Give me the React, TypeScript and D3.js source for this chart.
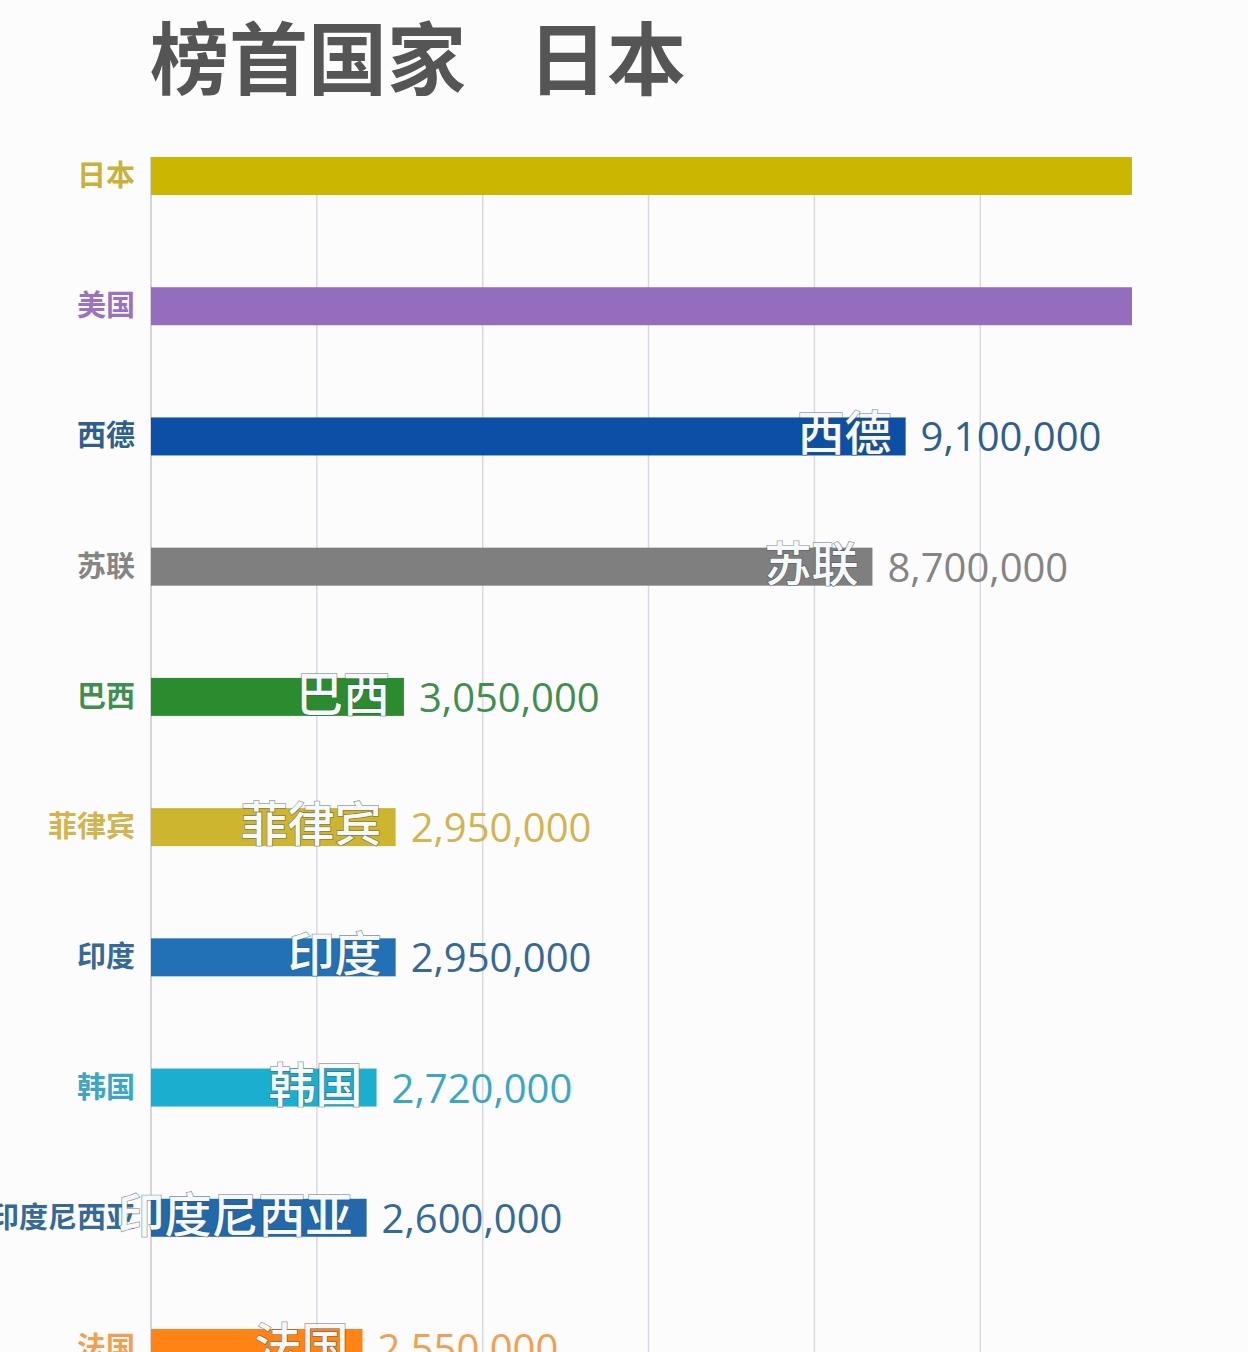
import React from "react";
import * as d3 from "d3";

const titleLead = "榜首国家";
const titleLeader = "日本";
const countries = ["日本", "美国", "西德", "苏联", "巴西", "菲律宾", "印度", "韩国", "印度尼西亚", "法国"];
const values = [12500000, 12200000, 9100000, 8700000, 3050000, 2950000, 2950000, 2720000, 2600000, 2550000];
const barColors = ["#cbb600", "#956dbf", "#0b4fa6", "#7f7f7f", "#2b8c2f", "#cdb52f", "#2270b5", "#1caecf", "#2168ac", "#ff8413"];
const textColors = ["#c9b23a", "#9a72c0", "#2f5f8f", "#858585", "#3f8f4f", "#d2b450", "#356a98", "#3aa8c4", "#356a98", "#f0a050"];
const visibleMax = 11830000;

const W = 1248;
const H = 1352;

export default function App() {
  const x = d3.scaleLinear().domain([0, visibleMax]).range([151, 1132]).clamp(true);
  const y = d3.scalePoint<string>().domain(countries).range([176, 1348]);
  const barH = 38;
  const ticks = x.ticks(5);
  const fmt = d3.format(",");
  return (
    <svg width={W} height={H} style={{ display: "block", position: "absolute", left: 0, top: 0, background: "#fcfcfd" }}>
      <rect x={0} y={0} width={W} height={H} fill="#fcfcfd" />
      <text x={150} y={89} fontFamily="'Noto Sans CJK SC', sans-serif" fontWeight={700} fontSize={79} fill="#555555">
        {titleLead}
      </text>
      <text x={528} y={89} fontFamily="'Noto Sans CJK SC', sans-serif" fontWeight={700} fontSize={79} fill="#555555">
        {titleLeader}
      </text>
      {ticks.map((t) => (
        <line key={t} x1={x(t)} x2={x(t)} y1={157} y2={H} stroke={t === 0 ? "#c8c8cc" : "#dadade"} strokeWidth={1.5} />
      ))}
      {countries.map((c, i) => {
        const cy = y(c) as number;
        const xe = x(values[i]);
        const clipped = values[i] > visibleMax;
        return (
          <g key={c}>
            <rect x={x(0)} y={cy - barH / 2} width={xe - x(0)} height={barH} fill={barColors[i]} />
            <text
              x={135}
              y={cy + 10}
              textAnchor="end"
              fontFamily="'Noto Sans CJK SC', sans-serif"
              fontWeight={700}
              fontSize={29}
              fill={textColors[i]}
            >
              {c}
            </text>
            {!clipped && (
              <>
                <text
                  x={xe - 14}
                  y={cy + 14}
                  textAnchor="end"
                  fontFamily="'Noto Sans CJK SC', sans-serif"
                  fontWeight={500}
                  fontSize={47}
                  fill="#f6f9fc"
                  stroke="rgba(70,80,90,0.55)"
                  strokeWidth={1.6}
                  style={{ paintOrder: "stroke" }}
                >
                  {c}
                </text>
                <text
                  x={xe + 15}
                  y={cy + 15}
                  fontFamily="'Open Sans', sans-serif"
                  fontSize={40}
                  fill={textColors[i]}
                >
                  {fmt(values[i])}
                </text>
              </>
            )}
          </g>
        );
      })}
    </svg>
  );
}
